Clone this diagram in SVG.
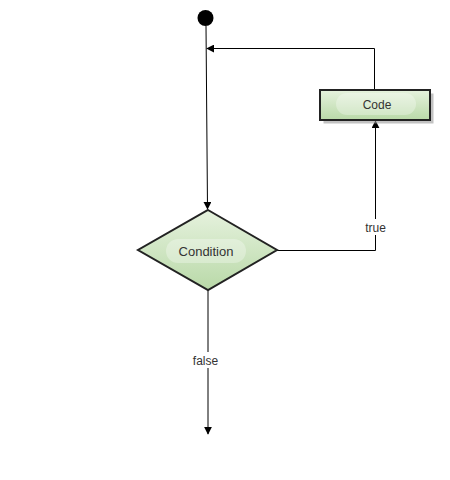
<svg xmlns="http://www.w3.org/2000/svg" width="450" height="480" viewBox="0 0 450 480">
<style>
.lbl{font-family:"Liberation Sans",Arial,sans-serif;font-size:12px;fill:#333;text-anchor:middle}
.edge{fill:none;stroke:#000;stroke-width:1}
.node{stroke:#222;stroke-width:2;fill:url(#g)}
</style>
<defs>
<linearGradient id="g" x1="0" y1="0" x2="0" y2="1">
<stop offset="0" stop-color="#e6f2de"/>
<stop offset="1" stop-color="#b9d9a8"/>
</linearGradient>
<marker id="arr" viewBox="0 0 10 10" refX="9" refY="5" markerWidth="8" markerHeight="8" markerUnits="userSpaceOnUse" orient="auto">
<path d="M0,0 L10,5 L0,10 Z" fill="#000"/>
</marker>
</defs>
<rect width="450" height="480" fill="#fff"/>
<g id="connectors">
<path class="edge" d="M206,26 L207.5,209" marker-end="url(#arr)"/>
<path class="edge" d="M374.5,90 L374.5,48.5 L207,48.5" marker-end="url(#arr)"/>
<path class="edge" d="M277,250.5 L375.5,250.5 L375.5,121" marker-end="url(#arr)"/>
<path class="edge" d="M208,290 L208,434" marker-end="url(#arr)"/>
<rect x="362" y="219" width="27" height="16" fill="#fff"/>
<text class="lbl" x="375.5" y="232">true</text>
<rect x="189" y="352" width="33" height="16" fill="#fff"/>
<text class="lbl" x="205.5" y="365">false</text>
</g>
<g id="start">
<circle cx="205.5" cy="18" r="8" fill="#000"/>
</g>
<g id="code">
<rect x="323.5" y="93.5" width="110" height="30" fill="#999" opacity="0.6"/>
<rect class="node" x="320" y="90" width="110" height="30"/>
<rect x="336" y="93" width="80" height="22" rx="11" fill="#fff" opacity="0.3"/>
<text class="lbl" x="377" y="108.5">Code</text>
</g>
<g id="condition">
<path class="node" d="M208,210 L277,250 L208,290 L138,250 Z"/>
<rect x="166" y="239" width="80" height="24" rx="12" fill="#fff" opacity="0.3"/>
<text class="lbl" x="206" y="256" style="font-size:13px">Condition</text>
</g>
</svg>
